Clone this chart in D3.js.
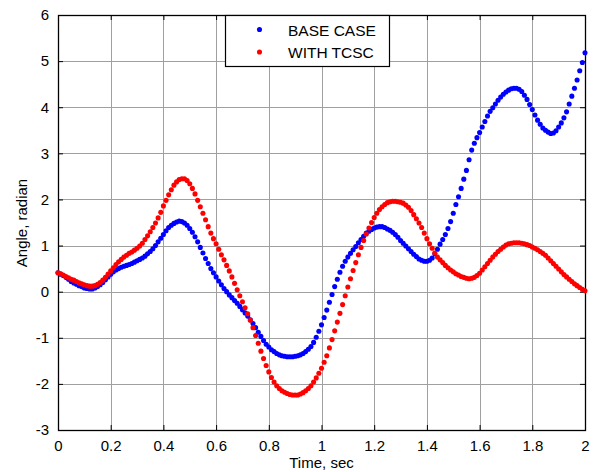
<!DOCTYPE html>
<html>
<head>
<meta charset="utf-8">
<script src="https://cdn.jsdelivr.net/npm/d3@7/dist/d3.min.js"></script>
<style>
  html, body { margin: 0; padding: 0; background: #fff; }
  svg { display: block; font-family: "Liberation Sans", Arial, sans-serif; }
</style>
</head>
<body>
<svg id="chart" width="595" height="472"></svg>
<script>
// ---- data ----
const timeStart = 0;
const timeStep = 0.01;

const baseCase = [
  0.41,0.38,0.35,0.31,0.27,0.22,0.19,0.16,0.13,0.11,
  0.08,0.07,0.06,0.06,0.08,0.11,0.15,0.20,0.26,0.32,
  0.38,0.43,0.47,0.50,0.53,0.55,0.57,0.59,0.61,0.64,
  0.67,0.70,0.73,0.77,0.82,0.87,0.93,1.00,1.08,1.16,
  1.24,1.32,1.39,1.44,1.48,1.51,1.53,1.52,1.49,1.44,
  1.37,1.29,1.19,1.08,0.96,0.84,0.72,0.61,0.50,0.41,
  0.32,0.23,0.15,0.07,0.00,-0.07,-0.13,-0.19,-0.25,-0.32,
  -0.39,-0.46,-0.53,-0.61,-0.69,-0.78,-0.88,-0.97,-1.06,-1.14,
  -1.20,-1.26,-1.30,-1.34,-1.37,-1.39,-1.40,-1.41,-1.41,-1.41,
  -1.40,-1.39,-1.37,-1.34,-1.30,-1.25,-1.19,-1.10,-0.99,-0.86,
  -0.72,-0.56,-0.40,-0.23,-0.06,0.11,0.27,0.42,0.55,0.66,
  0.75,0.83,0.91,0.98,1.06,1.13,1.20,1.27,1.31,1.35,
  1.38,1.40,1.41,1.41,1.39,1.36,1.33,1.29,1.24,1.18,
  1.11,1.05,0.99,0.93,0.87,0.81,0.76,0.71,0.68,0.66,
  0.66,0.68,0.73,0.82,0.92,1.03,1.13,1.24,1.37,1.52,
  1.70,1.89,2.06,2.24,2.44,2.63,2.86,3.07,3.22,3.34,
  3.45,3.57,3.69,3.81,3.91,3.99,4.07,4.15,4.22,4.28,
  4.33,4.37,4.40,4.41,4.41,4.39,4.34,4.26,4.17,4.06,
  3.95,3.83,3.72,3.63,3.55,3.50,3.46,3.43,3.44,3.49,
  3.57,3.66,3.77,3.90,4.07,4.24,4.41,4.59,4.79,4.97,
  5.18
];

const withTCSC = [
  0.41,0.39,0.36,0.33,0.30,0.27,0.25,0.22,0.19,0.17,
  0.15,0.13,0.12,0.12,0.13,0.16,0.20,0.25,0.31,0.38,
  0.45,0.52,0.59,0.65,0.70,0.75,0.79,0.83,0.86,0.90,
  0.94,0.99,1.05,1.13,1.21,1.30,1.39,1.49,1.60,1.72,
  1.86,1.98,2.10,2.21,2.31,2.38,2.43,2.45,2.45,2.41,
  2.34,2.24,2.12,1.98,1.84,1.70,1.56,1.41,1.27,1.15,
  1.04,0.92,0.80,0.69,0.57,0.45,0.32,0.18,0.04,-0.09,
  -0.22,-0.35,-0.48,-0.62,-0.78,-0.95,-1.12,-1.29,-1.45,-1.60,
  -1.74,-1.86,-1.96,-2.04,-2.10,-2.15,-2.18,-2.21,-2.23,-2.24,
  -2.24,-2.24,-2.22,-2.19,-2.15,-2.10,-2.04,-1.96,-1.87,-1.77,
  -1.66,-1.53,-1.39,-1.22,-1.04,-0.85,-0.66,-0.47,-0.28,-0.09,
  0.10,0.28,0.46,0.63,0.80,0.96,1.11,1.25,1.38,1.50,
  1.61,1.70,1.78,1.84,1.89,1.93,1.95,1.96,1.96,1.95,
  1.94,1.92,1.88,1.83,1.76,1.67,1.58,1.49,1.39,1.27,
  1.15,1.04,0.94,0.84,0.75,0.69,0.63,0.57,0.52,0.47,
  0.43,0.39,0.36,0.33,0.31,0.29,0.28,0.29,0.31,0.35,
  0.40,0.47,0.54,0.61,0.68,0.75,0.81,0.87,0.92,0.97,
  1.01,1.04,1.05,1.06,1.06,1.06,1.05,1.04,1.02,1.00,
  0.97,0.94,0.91,0.87,0.83,0.79,0.73,0.67,0.61,0.55,
  0.49,0.43,0.37,0.32,0.27,0.22,0.17,0.13,0.09,0.05,
  0.02
];

const xTicks = [0, 0.2, 0.4, 0.6, 0.8, 1, 1.2, 1.4, 1.6, 1.8, 2];
const yTicks = [-3, -2, -1, 0, 1, 2, 3, 4, 5, 6];
const seriesNames = ["BASE CASE", "WITH TCSC"];
const seriesColors = ["#0000ff", "#ff0000"];
const xLabel = "Time, sec";
const yLabel = "Angle, radian";

// ---- layout ----
const L = 58, R = 585, T = 15, B = 430;
const svg = d3.select("#chart");

const x = d3.scaleLinear().domain([0, 2]).range([L, R]);
const y = d3.scaleLinear().domain([-3, 6]).range([B, T]);

const g = svg.append("g");

// grid
g.append("g").selectAll("line").data(xTicks.slice(1, -1)).join("line")
  .attr("x1", d => Math.round(x(d)) + 0.5).attr("x2", d => Math.round(x(d)) + 0.5)
  .attr("y1", T).attr("y2", B)
  .attr("stroke", "#a0a0a0").attr("stroke-width", 1);
g.append("g").selectAll("line").data(yTicks.slice(1, -1)).join("line")
  .attr("y1", d => Math.round(y(d)) + 0.5).attr("y2", d => Math.round(y(d)) + 0.5)
  .attr("x1", L).attr("x2", R)
  .attr("stroke", "#a0a0a0").attr("stroke-width", 1);

// axes (ticks inward, on all four sides)
const tickLen = 5;
const fmt = d => String(d);
const xAxisB = d3.axisBottom(x).tickValues(xTicks).tickSizeInner(-tickLen).tickSizeOuter(0).tickPadding(10).tickFormat(fmt);
const xAxisT = d3.axisTop(x).tickValues(xTicks).tickSizeInner(-tickLen).tickSizeOuter(0).tickFormat("");
const yAxisL = d3.axisLeft(y).tickValues(yTicks).tickSizeInner(-tickLen).tickSizeOuter(0).tickPadding(9).tickFormat(fmt);
const yAxisR = d3.axisRight(y).tickValues(yTicks).tickSizeInner(-tickLen).tickSizeOuter(0).tickFormat("");

function styleAxis(sel) {
  sel.select(".domain").remove();
  sel.selectAll("line").attr("stroke", "#000");
  sel.selectAll("text").attr("fill", "#000").style("font-size", "15px")
     .style("font-family", '"Liberation Sans", Arial, sans-serif');
}
g.append("g").attr("transform", `translate(0,${B})`).call(xAxisB).call(styleAxis);
g.append("g").attr("transform", `translate(0,${T})`).call(xAxisT).call(styleAxis);
g.append("g").attr("transform", `translate(${L},0)`).call(yAxisL).call(styleAxis);
g.append("g").attr("transform", `translate(${R},0)`).call(yAxisR).call(styleAxis);

// frame
g.append("rect").attr("x", L + 0.5).attr("y", T + 0.5)
  .attr("width", R - L).attr("height", B - T)
  .attr("fill", "none").attr("stroke", "#000").attr("stroke-width", 1.3);

// data points
const series = [baseCase, withTCSC];
series.forEach((vals, si) => {
  g.append("g").selectAll("circle").data(vals).join("circle")
    .attr("cx", (d, i) => x(timeStart + i * timeStep))
    .attr("cy", d => y(d))
    .attr("r", 2.55)
    .attr("fill", seriesColors[si]);
});

// axis labels
svg.append("text").attr("x", (L + R) / 2).attr("y", 468)
  .attr("text-anchor", "middle").style("font-size", "15px").attr("fill", "#000")
  .text(xLabel);
svg.append("text").attr("transform", `translate(27,223) rotate(-90)`)
  .attr("text-anchor", "middle").style("font-size", "15px").attr("fill", "#000")
  .text(yLabel);

// legend
const lg = svg.append("g");
lg.append("rect").attr("x", 225.5).attr("y", 15.5).attr("width", 164).attr("height", 51)
  .attr("fill", "#fff").attr("stroke", "#000").attr("stroke-width", 1.2);
seriesNames.forEach((name, i) => {
  const cy = 29.5 + i * 22.5;
  lg.append("circle").attr("cx", 259.5).attr("cy", cy).attr("r", 2.55).attr("fill", seriesColors[i]);
  lg.append("text").attr("x", 288).attr("y", cy + 6).style("font-size", "15.5px")
    .attr("fill", "#000").text(name);
});
</script>
</body>
</html>
